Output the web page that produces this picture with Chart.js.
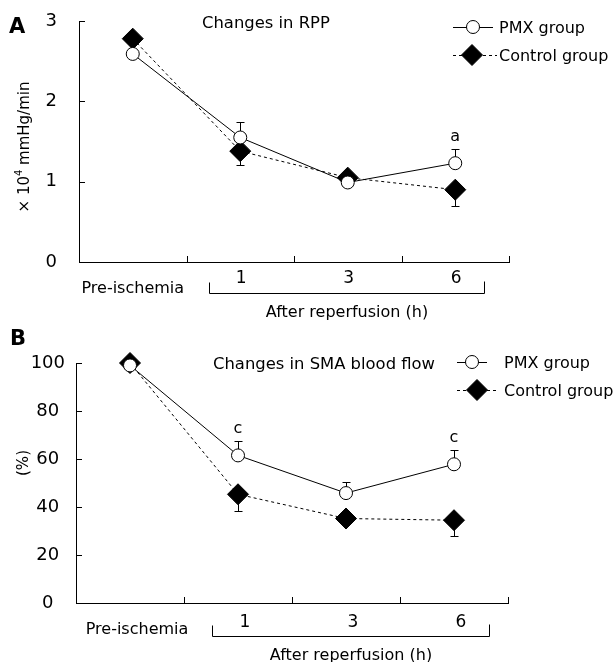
<!DOCTYPE html>
<html>
<head>
<meta charset="utf-8">
<script src="https://cdn.jsdelivr.net/npm/chart.js@4.4.1/dist/chart.umd.min.js"></script>
<style>
  html, body { margin: 0; padding: 0; background: #fff; }
  #wrap { position: relative; width: 614px; height: 662px; }
  #rpp-chart { position: absolute; left: 0; top: 0; }
  #sma-chart { position: absolute; left: 0; top: 320px; }
</style>
</head>
<body>
<div id="wrap">
  <canvas id="rpp-chart" width="614" height="320"></canvas>
  <canvas id="sma-chart" width="614" height="342"></canvas>
</div>
<script>
// Dati
const timeLabels = ['Pre-ischemia', '1', '3', '6'];
const seriesNames = ['PMX group', 'Control group'];

// Pannello A - RPP (x 10^4 mmHg/min)
const rppPmx = [2.59, 1.55, 0.99, 1.23];
const rppPmxErr = [0, 0.19, 0, 0.18];
const rppControl = [2.78, 1.38, 1.05, 0.9];
const rppControlErr = [0, 0.17, 0, 0.2];
const rppMarks = ['', '', '', 'a'];
const rppTicks = [0, 1, 2, 3];

// Pannello B - flusso SMA (%)
const smaPmx = [99, 61.5, 45.8, 57.8];
const smaPmxErr = [0, 6, 4.5, 5.8];
const smaControl = [100, 45.3, 35.2, 34.5];
const smaControlErr = [0, 7, 0, 6.5];
const smaMarks = ['', 'c', '', 'c'];
const smaTicks = [0, 20, 40, 60, 80, 100];

const FONT = "'DejaVu Sans', Verdana, sans-serif";

// Barre di errore: PMX verso l'alto, controllo verso il basso
function drawErrorBars(chart) {
    const ctx = chart.ctx;
    const yScale = chart.scales.y;
    chart.data.datasets.forEach((ds, di) => {
        const meta = chart.getDatasetMeta(di);
        ds.errors.forEach((err, i) => {
            if (!err) return;
            const pt = meta.data[i];
            const x = Math.round(pt.x) + 0.5;
            const yEnd = Math.round(yScale.getPixelForValue(ds.data[i] + ds.errorDir * err)) + 0.5;
            ctx.save();
            ctx.strokeStyle = '#000';
            ctx.lineWidth = 1;
            ctx.beginPath();
            ctx.moveTo(x, pt.y);
            ctx.lineTo(x, yEnd);
            ctx.moveTo(x - 4, yEnd);
            ctx.lineTo(x + 4, yEnd);
            ctx.stroke();
            ctx.restore();
        });
    });
}

const decorPlugin = {
    id: 'panelDecor',
    beforeDatasetsDraw(chart) {
        drawErrorBars(chart);
    },
    afterDraw(chart, args, o) {
        const ctx = chart.ctx;
        const xs = chart.scales.x;
        const ys = chart.scales.y;
        const area = chart.chartArea;
        ctx.save();
        ctx.strokeStyle = '#000';
        ctx.fillStyle = '#000';
        ctx.lineWidth = 1;

        // tacche interne sugli assi
        ctx.beginPath();
        ys.ticks.forEach(t => {
            const y = Math.round(ys.getPixelForValue(t.value)) + 0.5;
            ctx.moveTo(area.left, y);
            ctx.lineTo(area.left + 6, y);
        });
        for (let i = 0; i <= chart.data.labels.length; i++) {
            const x = Math.round(xs.getPixelForValue(i - 0.5)) + 0.5;
            ctx.moveTo(x, area.bottom);
            ctx.lineTo(x, area.bottom - 6);
        }
        ctx.stroke();

        // etichette asse x
        ctx.textAlign = 'center';
        ctx.textBaseline = 'alphabetic';
        chart.data.labels.forEach((lab, i) => {
            const x = xs.getPixelForValue(i);
            if (i === 0) {
                ctx.font = '16px ' + FONT;
                ctx.fillText(lab, x + o.preDx, area.bottom + o.preDy);
            } else {
                ctx.font = '17px ' + FONT;
                ctx.fillText(lab, x + o.numDx, area.bottom + o.numDy);
            }
        });

        // parentesi "After reperfusion"
        ctx.font = '16px ' + FONT;
        const bl = Math.round(xs.getPixelForValue(0.5) + o.bracketL) + 0.5;
        const br = Math.round(area.right - o.bracketR) + 0.5;
        const by = Math.round(area.bottom + o.bracketY) + 0.5;
        ctx.beginPath();
        ctx.moveTo(bl, by - 11);
        ctx.lineTo(bl, by);
        ctx.lineTo(br, by);
        ctx.lineTo(br, by - 12);
        ctx.stroke();
        ctx.fillText('After reperfusion (h)', (bl + br) / 2, by + 23);

        // lettere di significativita'
        ctx.font = '16px ' + FONT;
        const pmx = chart.data.datasets[0];
        const pmxMeta = chart.getDatasetMeta(0);
        o.marks.forEach((m, i) => {
            if (!m) return;
            const top = ys.getPixelForValue(pmx.data[i] + pmx.errors[i]);
            ctx.fillText(m, pmxMeta.data[i].x, top - 8);
        });

        // lettera del pannello
        ctx.textAlign = 'left';
        ctx.font = 'bold 21px ' + FONT;
        ctx.fillText(o.letter, o.letterX, o.letterY);

        // titolo
        ctx.font = o.titleSize + 'px ' + FONT;
        ctx.fillText(o.title, o.titleX, o.titleY);

        // titolo asse y (ruotato)
        ctx.save();
        ctx.translate(o.yTitleX, o.yTitleY);
        ctx.rotate(-Math.PI / 2);
        const parts = o.yTitleParts;
        let total = 0;
        parts.forEach(p => {
            ctx.font = p.size + 'px ' + FONT;
            total += ctx.measureText(p.text).width;
        });
        let px = -total / 2;
        parts.forEach(p => {
            ctx.font = p.size + 'px ' + FONT;
            ctx.fillText(p.text, px, 7 - (p.rise || 0));
            px += ctx.measureText(p.text).width;
        });
        ctx.restore();

        // legenda
        chart.data.datasets.forEach((ds, di) => {
            const lg = o.legend;
            const y = lg.y[di];
            ctx.beginPath();
            ctx.setLineDash(ds.borderDash || []);
            ctx.moveTo(lg.x1, y + 0.5);
            ctx.lineTo(lg.x2[di], y + 0.5);
            ctx.stroke();
            ctx.setLineDash([]);
            ctx.fillStyle = ds.pointBackgroundColor;
            Chart.helpers.drawPoint(ctx, {
                pointStyle: ds.pointStyle,
                radius: ds.pointRadius,
                rotation: 0,
                borderWidth: 1
            }, lg.mx[di], y);
            ctx.fillStyle = '#000';
            ctx.font = '16px ' + FONT;
            ctx.textAlign = 'left';
            ctx.fillText(ds.label, lg.textX, y + 6);
        });
        ctx.restore();
    }
};

function makeDatasets(pmx, pmxErr, ctrl, ctrlErr) {
    return [{
        label: seriesNames[0],
        data: pmx,
        errors: pmxErr,
        errorDir: 1,
        clip: false,
        borderColor: '#000',
        borderWidth: 1,
        pointStyle: 'circle',
        pointRadius: 6.5,
        pointBackgroundColor: '#fff',
        pointBorderColor: '#000',
        pointBorderWidth: 1,
        tension: 0
    }, {
        label: seriesNames[1],
        data: ctrl,
        errors: ctrlErr,
        errorDir: -1,
        clip: false,
        borderColor: '#000',
        borderWidth: 1,
        borderDash: [3, 3],
        pointStyle: 'rectRot',
        pointRadius: 10.5,
        pointBackgroundColor: '#000',
        pointBorderColor: '#000',
        pointBorderWidth: 1,
        tension: 0
    }];
}

function makeChart(canvas, cfg) {
    return new Chart(canvas, {
        type: 'line',
        data: {
            labels: timeLabels,
            datasets: makeDatasets(cfg.pmx, cfg.pmxErr, cfg.ctrl, cfg.ctrlErr)
        },
        plugins: [decorPlugin],
        options: {
            responsive: false,
            animation: false,
            devicePixelRatio: 1,
            layout: { padding: { top: cfg.top, right: cfg.right, left: 0, bottom: 0 } },
            plugins: {
                legend: { display: false },
                tooltip: { enabled: false },
                panelDecor: cfg.decor
            },
            scales: {
                x: {
                    type: 'category',
                    offset: true,
                    grid: { display: false, drawTicks: false },
                    border: { display: true, color: '#000', width: 1 },
                    ticks: { display: false },
                    afterFit: s => { s.height = cfg.xHeight; }
                },
                y: {
                    min: cfg.ticks[0],
                    max: cfg.ticks[cfg.ticks.length - 1],
                    afterBuildTicks: s => { s.ticks = cfg.ticks.map(v => ({ value: v })); },
                    grid: { display: false, drawTicks: false },
                    border: { display: true, color: '#000', width: 1 },
                    ticks: {
                        color: '#000',
                        font: { family: FONT, size: 18 },
                        padding: cfg.tickPad,
                        crossAlign: 'center'
                    },
                    afterFit: s => {
                        s.width = cfg.yWidth;
                        s.paddingTop = 0;
                        s.paddingBottom = 0;
                    }
                }
            }
        }
    });
}

makeChart(document.getElementById('rpp-chart'), {
    pmx: rppPmx, pmxErr: rppPmxErr, ctrl: rppControl, ctrlErr: rppControlErr,
    ticks: rppTicks,
    top: 21, right: 105, xHeight: 58, yWidth: 79, tickPad: 22,
    decor: {
        letter: 'A', letterX: 9, letterY: 33,
        title: 'Changes in RPP', titleSize: 16.4, titleX: 202, titleY: 28,
        yTitleParts: [{ text: '\u00d7 10', size: 15 }, { text: '4', size: 10, rise: 7 }, { text: ' mmHg/min', size: 15 }],
        yTitleX: 22, yTitleY: 147,
        legend: { x1: 453, x2: [493, 497], mx: [473, 472], y: [27, 55], textX: 499 },
        marks: rppMarks,
        preDx: 0, preDy: 31, numDx: 1, numDy: 21,
        bracketL: 22, bracketR: 25, bracketY: 31
    }
});

makeChart(document.getElementById('sma-chart'), {
    pmx: smaPmx, pmxErr: smaPmxErr, ctrl: smaControl, ctrlErr: smaControlErr,
    ticks: smaTicks,
    top: 43, right: 106, xHeight: 59, yWidth: 76, tickPad: 11,
    decor: {
        letter: 'B', letterX: 10, letterY: 25,
        title: 'Changes in SMA blood flow', titleSize: 16.4, titleX: 213, titleY: 49,
        yTitleParts: [{ text: '(%)', size: 15 }],
        yTitleX: 21, yTitleY: 143,
        legend: { x1: 457, x2: [487, 497], mx: [472, 477], y: [42, 70], textX: 504 },
        marks: smaMarks,
        preDx: 7, preDy: 31, numDx: 7, numDy: 24,
        bracketL: 28, bracketR: 19, bracketY: 33
    }
});
</script>
</body>
</html>
